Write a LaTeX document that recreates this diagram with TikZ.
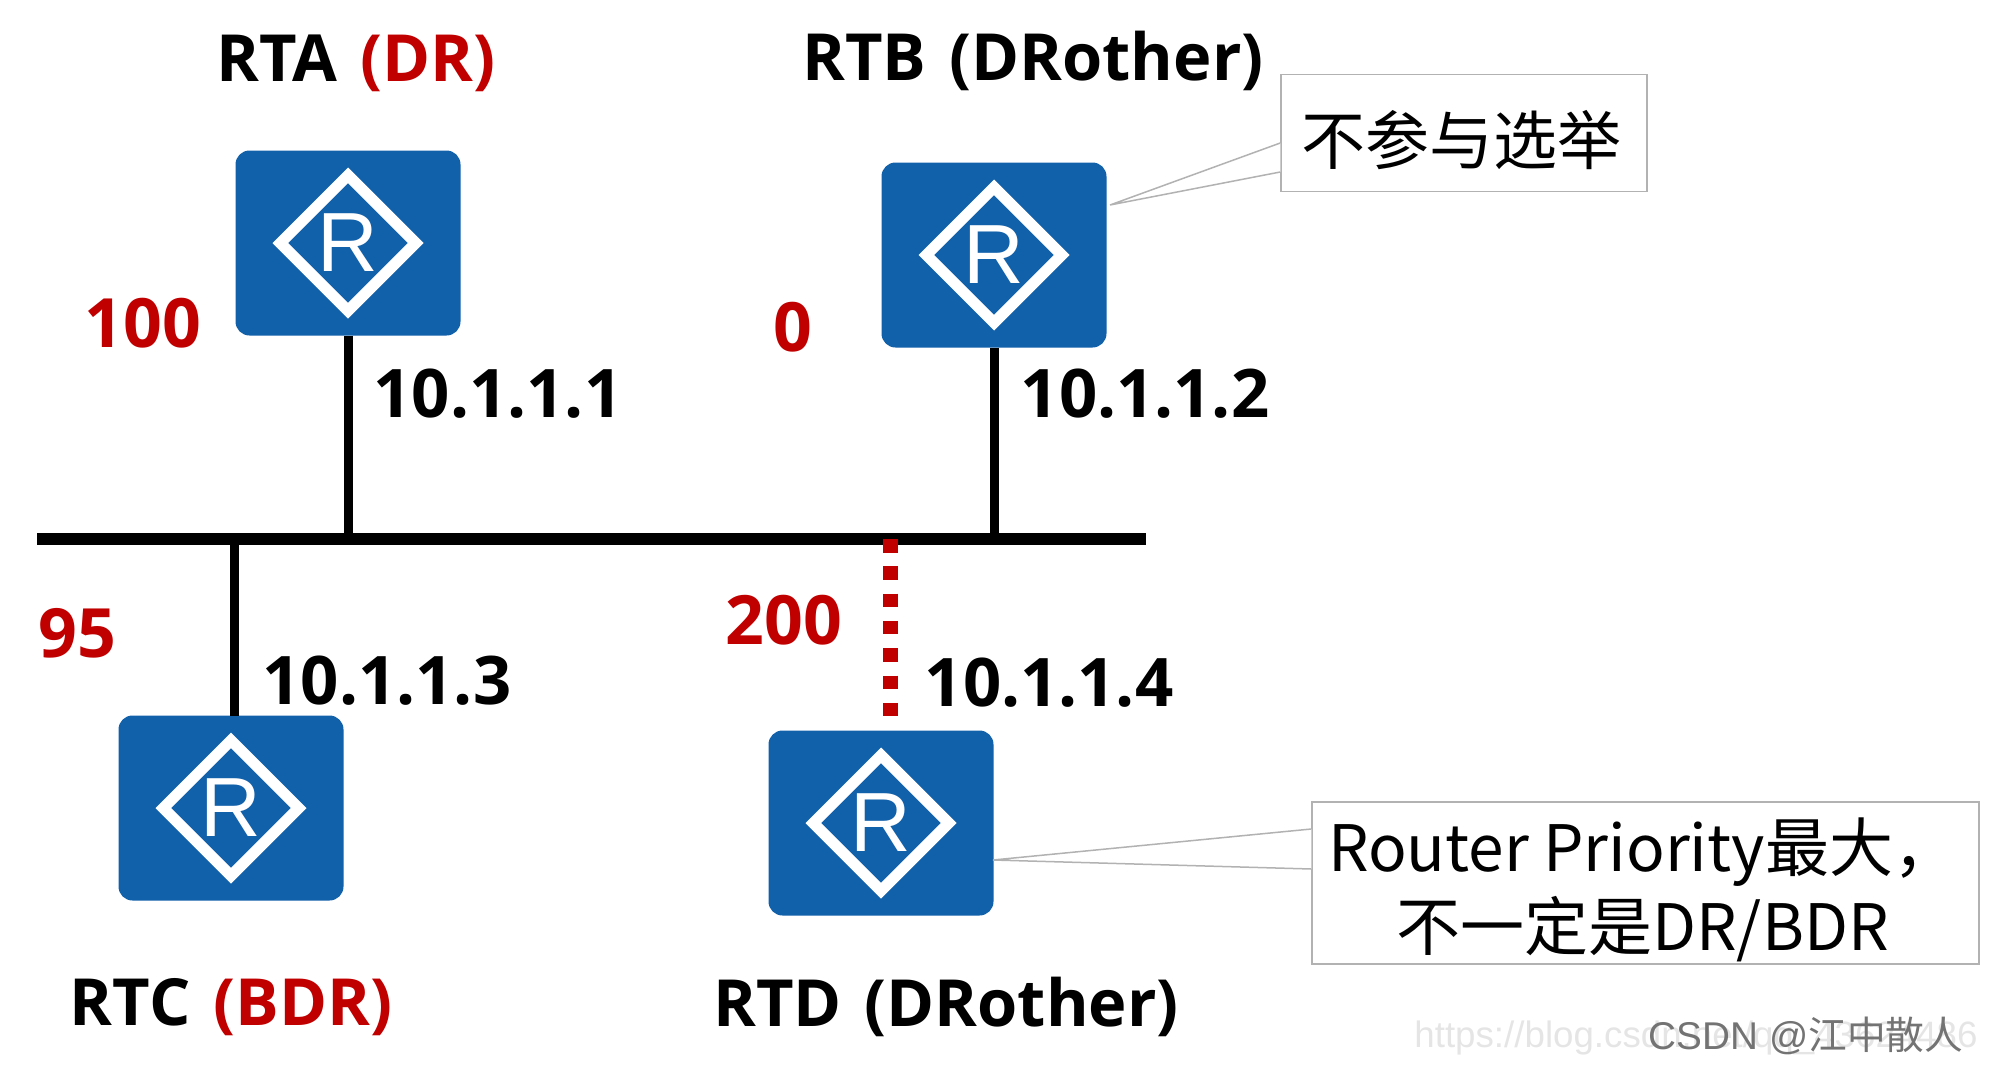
\documentclass[tikz,border=0pt]{standalone}
\usepackage{fontspec}
\usepackage{tikz}
\usetikzlibrary{shapes.geometric}
\setmainfont{Open Sans}
\newfontfamily\cjkfont{Noto Sans CJK SC}
\newfontfamily\arialfont{Liberation Sans}
\definecolor{routerblue}{RGB}{17,96,170}
\definecolor{prioritred}{RGB}{192,0,0}
\newcommand{\noteline}[1]{\raisebox{-7pt}[\height][\depth]{\kern-3pt #1\kern3pt}}
\newcommand{\titlegap}{\hspace{6pt} }
\tikzset{
  router/.style={draw=none,fill=routerblue,shape=rectangle,rounded corners=14pt,minimum width=225pt,minimum height=185pt,inner sep=0pt},
  rmark/.style={draw=white,line width=11pt,shape=diamond,aspect=1,minimum width=140pt,minimum height=140pt,inner sep=0pt,text=white,font=\arialfont\fontsize{84}{84}\selectfont},
  title/.style={font=\fontsize{65}{65}\selectfont\bfseries},
  addr/.style={font=\fontsize{67}{67}\selectfont\bfseries},
  prio/.style={text=prioritred,font=\fontsize{68}{68}\selectfont\bfseries},
  link/.style={line width=9pt},
  note/.style={draw=black!30,line width=1.5pt,fill=white,shape=rectangle,inner sep=0pt,align=center,font=\cjkfont\fontsize{64}{79}\selectfont},
  wedge/.style={draw=black!30,line width=1.5pt,fill=white}
}
\begin{document}
\begin{tikzpicture}[x=1pt,y=-1pt,every text node part/.style={align=center}]
\useasboundingbox (0,0) rectangle (2000,1079);
\node [router] (rta) at (348,243) {};
\node [router] (rtb) at (994,255) {};
\node [router] (rtc) at (231,808) {};
\node [router] (rtd) at (881,823) {};
\node [rmark] (marka) at (rta) {R};
\node [rmark] (markb) at (rtb) {R};
\node [rmark] (markc) at (rtc) {R};
\node [rmark] (markd) at (rtd) {R};
\node [fill=black,minimum width=1109pt,minimum height=12pt,inner sep=0pt] (bus) at (591.5,539) {};
\node [title] (rtaname) at (356,63) {RTA\titlegap\textcolor{prioritred}{(DR)}};
\node [title] (rtbname) at (1033,61) {RTB\titlegap(DRother)};
\node [title] (rtcname) at (231,1007) {RTC\titlegap\textcolor{prioritred}{(BDR)}};
\node [title] (rtdname) at (946,1007) {RTD\titlegap(DRother)};
\node [prio] (prioa) at (143,323) {100};
\node [prio] (priob) at (793,327) {0};
\node [prio] (prioc) at (77,633) {95};
\node [prio] (priod) at (784,620) {200};
\node [addr] (addra) at (498,394) {10.1.1.1};
\node [addr] (addrb) at (1145,394) {10.1.1.2};
\node [addr] (addrc) at (387,681) {10.1.1.3};
\node [addr] (addrd) at (1049,683) {10.1.1.4};
\draw [link] (rta.south) -- (rta.south |- bus.north);
\draw [link] (rtb.south) -- (rtb.south |- bus.north);
\coordinate (footc) at (234,716);
\draw [link] (footc) -- (footc |- bus.south);
\coordinate (footd) at (890,716);
\draw [prioritred,line width=15pt,dash pattern=on 13.5pt off 13.8pt] (footd |- bus) -- (footd);
\node [note,minimum width=366pt,minimum height=117pt] (noteb) at (1464,133) {\noteline{不参与选举}};
\node [note,minimum width=667pt,minimum height=162pt] (noted) at (1645.5,883) {\noteline{Router Priority最大，}\\\noteline{不一定是DR/BDR}};
\coordinate (tipb) at (1110,205);
\coordinate (tipd) at (993,860);
\draw [wedge] (noteb.west |- 0,143) -- (tipb) -- (noteb.west |- 0,172);
\draw [wedge] (noted.west |- 0,829) -- (tipd) -- (noted.west |- 0,869);
\node [text=black!10,font=\arialfont\fontsize{36.7}{36.7}\selectfont] (wmurl) at (1696,1038) {https://blog.csdn.net/qq\_43624486};
\node [text=black!55,font=\arialfont\fontsize{38.7}{38.7}\selectfont] (wmname) at (1806,1036) {CSDN @{\cjkfont 江中散人}};
\end{tikzpicture}
\end{document}
